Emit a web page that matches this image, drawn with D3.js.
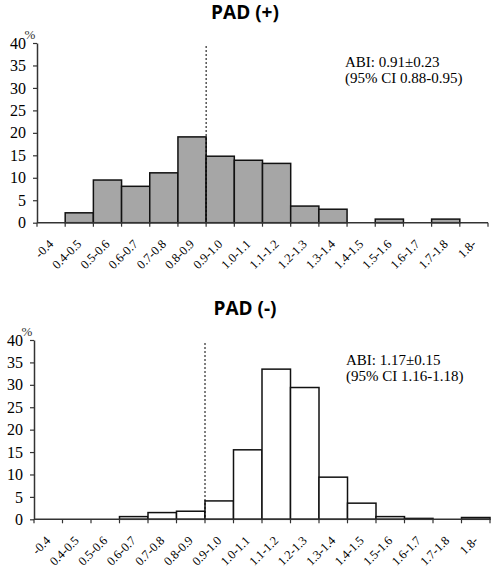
<!DOCTYPE html>
<html>
<head>
<meta charset="utf-8">
<script src="https://cdn.jsdelivr.net/npm/d3@7"></script>
<style>
html,body{margin:0;padding:0;background:#fff;}
svg{display:block;}
</style>
</head>
<body>
<svg id="chart" width="492" height="570"></svg>
<script>
const categories = ["-0.4","0.4-0.5","0.5-0.6","0.6-0.7","0.7-0.8","0.8-0.9","0.9-1.0","1.0-1.1","1.1-1.2","1.2-1.3","1.3-1.4","1.4-1.5","1.5-1.6","1.6-1.7","1.7-1.8","1.8-"];
const padPositive = [0,2.2,9.5,8.1,11.1,19.1,14.8,13.9,13.2,3.7,3.0,0,0.8,0,0.8,0];
const padNegative = [0,0,0,0.6,1.5,1.8,4.1,15.5,33.5,29.4,9.4,3.6,0.6,0.2,0,0.4];
const yTicks = [0,5,10,15,20,25,30,35,40];
const cutoffCategory = "0.9-1.0";

const svg = d3.select("#chart");

function drawPanel(cfg){
  const g = svg.append("g");
  const x = d3.scaleBand().domain(categories).range([cfg.x0, cfg.x1]).padding(0);
  const y = d3.scaleLinear().domain([0,40]).range([cfg.y0, cfg.y1]);

  // title
  g.append("text").attr("x", cfg.titleX).attr("y", cfg.titleY)
    .attr("text-anchor","middle")
    .attr("font-family","'Open Sans', 'DejaVu Sans', sans-serif")
    .attr("font-weight","bold").attr("font-size", 19)
    .attr("fill","#000").text(cfg.title);

  // bars
  g.selectAll("rect.bar").data(cfg.values.map((v,i)=>({c:categories[i], v})).filter(d=>d.v>0))
    .enter().append("rect").attr("class","bar")
    .attr("x", d=>x(d.c)).attr("width", x.bandwidth())
    .attr("y", d=>y(d.v)).attr("height", d=>y(0)-y(d.v))
    .attr("fill", cfg.fill).attr("stroke","#111").attr("stroke-width",1.5);

  // dashed cutoff line
  g.append("line").attr("x1", x(cutoffCategory)).attr("x2", x(cutoffCategory))
    .attr("y1", cfg.dashTop).attr("y2", y(0))
    .attr("stroke","#000").attr("stroke-width",1).attr("stroke-dasharray","2,2");

  // y axis
  const ya = d3.axisLeft(y).tickValues(yTicks).tickSize(4).tickPadding(7).tickSizeOuter(0);
  const yg = g.append("g").attr("transform", `translate(${cfg.x0},0)`).call(ya);
  yg.select(".domain").attr("stroke","#333").attr("stroke-width",1.5);
  yg.selectAll(".tick line").attr("stroke","#333").attr("stroke-width",1.2);
  yg.selectAll(".tick text").attr("font-family","'Liberation Serif', 'Times New Roman', serif")
    .attr("font-size",16).attr("fill","#000");

  // % label
  g.append("text").attr("x", cfg.x0 - 7).attr("y", y(40) - 4)
    .attr("text-anchor","middle")
    .attr("font-family","'Liberation Serif', serif").attr("font-size",13)
    .attr("fill","#333").text("%");

  // x axis line
  g.append("line").attr("x1", cfg.x0).attr("x2", cfg.x1).attr("y1", y(0)).attr("y2", y(0))
    .attr("stroke","#333").attr("stroke-width",1.5);
  // boundary ticks
  const bounds = categories.map(c=>x(c)).concat([x(categories[categories.length-1]) + x.bandwidth()]);
  g.selectAll("line.xt").data(bounds).enter().append("line").attr("class","xt")
    .attr("x1", d=>d).attr("x2", d=>d).attr("y1", y(0)).attr("y2", y(0)+4)
    .attr("stroke","#333").attr("stroke-width",1.2);
  // x labels
  g.selectAll("text.xl").data(categories).enter().append("text").attr("class","xl")
    .attr("transform", d=>`translate(${x(d)+x.bandwidth()/2+3},${y(0)+22}) rotate(-45)`)
    .attr("text-anchor","end")
    .attr("font-family","'Liberation Serif', 'Times New Roman', serif")
    .attr("font-size",12.5).attr("fill","#000").text(d=>d);

  // annotation
  const ann = g.append("text").attr("font-family","'Liberation Serif', 'Times New Roman', serif")
    .attr("font-size",15).attr("fill","#000");
  cfg.ann.forEach((t,i)=>{
    ann.append("tspan").attr("x", cfg.annX).attr("y", cfg.annY + i*15.5).text(t);
  });
}

drawPanel({title:"PAD (+)", titleX:245, titleY:19, values:padPositive, fill:"#a6a6a6",
  x0:37, x1:488, y0:222.7, y1:43, dashTop:46,
  ann:["ABI: 0.91\u00b10.23","(95% CI 0.88-0.95)"], annX:345, annY:67});
drawPanel({title:"PAD (-)", titleX:245, titleY:315, values:padNegative, fill:"#ffffff",
  x0:34, x1:490, y0:519.3, y1:340, dashTop:343,
  ann:["ABI: 1.17\u00b10.15","(95% CI 1.16-1.18)"], annX:346, annY:365});
</script>
</body>
</html>
